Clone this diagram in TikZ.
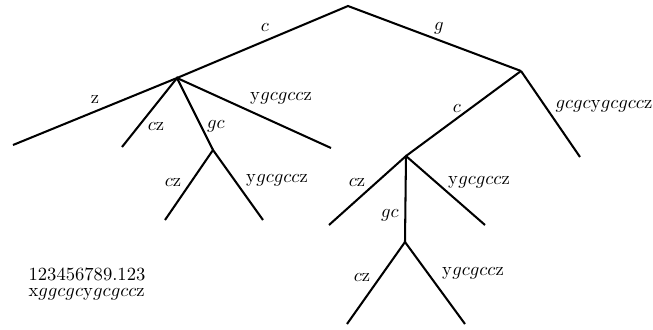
\documentclass[tikz,border=0pt]{standalone}
\begin{document}
\begin{tikzpicture}[x=0.5376pt,y=-0.5376pt,
  edge/.style={line width=1.1pt},
  lbl/.style={inner sep=0pt,font=\normalsize}]
\useasboundingbox (0,0) rectangle (653,329);
% nodes
\coordinate (R) at (348,6);
\coordinate (A) at (177,78);
\coordinate (B) at (521,71);
\coordinate (Lz) at (13,145);
\coordinate (Lcz) at (122,147);
\coordinate (C) at (213,150);
\coordinate (Ly) at (331,148);
\coordinate (C1) at (165,220);
\coordinate (C2) at (263,220);
\coordinate (D) at (406,156);
\coordinate (Lg) at (580,157);
\coordinate (D1) at (329,225);
\coordinate (D2) at (485,225);
\coordinate (E) at (405,242);
\coordinate (E1) at (347,324);
\coordinate (E2) at (465,324);
% edges
\draw[edge] (A) -- (R) -- (B);
\draw[edge] (Lz) -- (A) -- (Ly);
\draw[edge] (Lcz) -- (A) -- (C);
\draw[edge] (C1) -- (C) -- (C2);
\draw[edge] (B) -- (D);
\draw[edge] (B) -- (Lg);
\draw[edge] (D1) -- (D) -- (D2);
\draw[edge] (D) -- (E);
\draw[edge] (E1) -- (E) -- (E2);
% labels
\node[lbl] (lc) at (265,27) {$c$};
\node[lbl] (lg) at (439,28) {$g$};
\node[lbl] (lz) at (95,99) {z};
\node[lbl] (lcz) at (156,126) {$c\mathrm{z}$};
\node[lbl] (lgc) at (216,126) {$gc$};
\node[lbl] (ly) at (281,98) {$\mathrm{y}gcgcc\mathrm{z}$};
\node[lbl] (lcz2) at (173,182) {$c\mathrm{z}$};
\node[lbl] (ly2) at (277,180) {$\mathrm{y}gcgcc\mathrm{z}$};
\node[lbl] (lc3) at (457,108) {$c$};
\node[lbl] (lgg) at (604,106) {$gcgc\mathrm{y}gcgcc\mathrm{z}$};
\node[lbl] (lcz3) at (357,182) {$c\mathrm{z}$};
\node[lbl] (ly3) at (479,182) {$\mathrm{y}gcgcc\mathrm{z}$};
\node[lbl] (lgc3) at (390,215) {$gc$};
\node[lbl] (lcz4) at (362,277) {$c\mathrm{z}$};
\node[lbl] (ly4) at (473,273) {$\mathrm{y}gcgcc\mathrm{z}$};
\node[lbl, align=left] (t) at (87,284)
  {123456789.123\\[-3.4pt]x$ggcgc\mathrm{y}gcgcc$z};
\end{tikzpicture}
\end{document}
